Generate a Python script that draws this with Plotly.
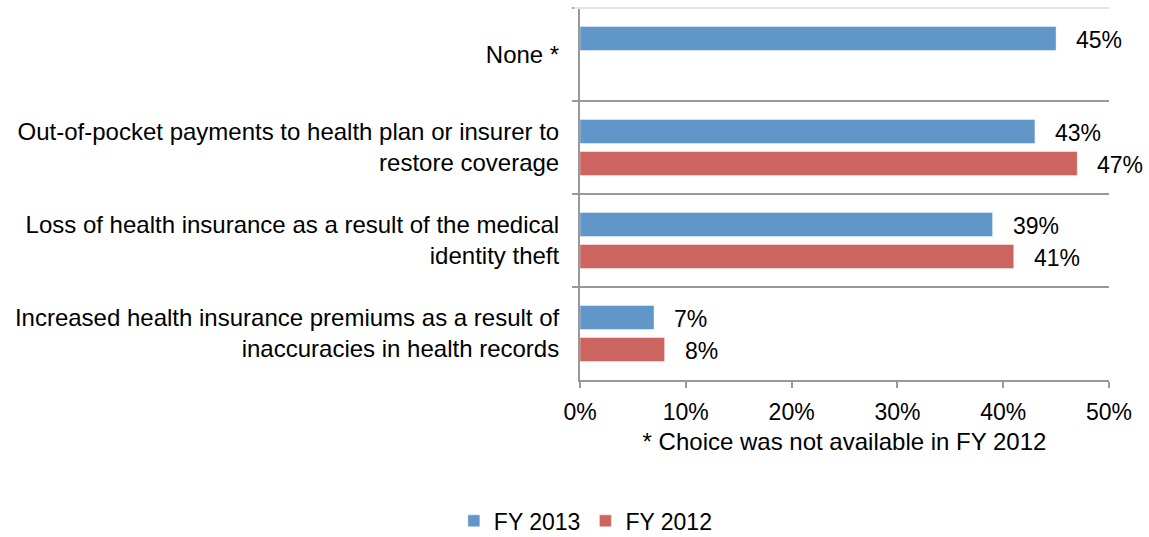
import plotly.graph_objects as go

# Survey categories (top to bottom) and percentages per fiscal year
categories = [
    "None *",
    "Out-of-pocket payments to health plan or insurer to<br>restore coverage",
    "Loss of health insurance as a result of the medical<br>identity theft",
    "Increased health insurance premiums as a result of<br>inaccuracies in health records",
]
fy2013 = [45, 43, 39, 7]
fy2012 = [None, 47, 41, 8]
x_ticks = [0, 10, 20, 30, 40, 50]
x_tick_labels = [f"{v}%" for v in x_ticks]

BLUE = "#6096C8"
RED = "#CC6560"
AXIS_GREY = "#999999"
FONT = "Liberation Sans, Arial, sans-serif"
FS = 23
FS_CAT = 24

fig = go.Figure()
fig.add_trace(go.Bar(
    y=categories, x=fy2013, name="FY 2013", orientation="h",
    marker=dict(color=BLUE, line=dict(color="rgba(255,255,255,0.45)", width=1)),
    hoverinfo="x+y",
))
fig.add_trace(go.Bar(
    y=categories, x=fy2012, name="FY 2012", orientation="h",
    marker=dict(color=RED, line=dict(color="rgba(255,255,255,0.45)", width=1)),
    hoverinfo="x+y",
))

# Value labels just past the end of each bar
for series, shift in ((fy2013, 15), (fy2012, -17)):
    for cat, val in zip(categories, series):
        if val is None:
            continue
        fig.add_annotation(
            x=val, y=cat, xref="x", yref="y", text=f"{val}%",
            showarrow=False, xanchor="left", yanchor="middle",
            xshift=18, yshift=shift,
            font=dict(family=FONT, size=FS, color="#000000"),
        )

# Light rule along the top edge of the plot
fig.add_shape(type="line", xref="paper", yref="paper", x0=-0.012, x1=1, y0=1, y1=1,
              line=dict(color="#E4E4E4", width=2), layer="above")

fig.update_layout(
    width=1149, height=537,
    margin=dict(l=580, r=40, t=8, b=157),
    paper_bgcolor="white", plot_bgcolor="white",
    barmode="group", bargap=0.31, bargroupgap=0.25,
    font=dict(family=FONT, size=FS, color="#000000"),
    showlegend=True,
    legend=dict(
        orientation="h", xref="container", yref="container",
        x=0.395, y=0.03, xanchor="left", yanchor="middle",
        font=dict(family=FONT, size=FS, color="#000000"),
        itemwidth=30, traceorder="normal",
    ),
    xaxis=dict(
        range=[0, 50], tickvals=x_ticks, ticktext=x_tick_labels,
        showgrid=False, zeroline=False,
        showline=True, linecolor=AXIS_GREY, linewidth=2,
        ticks="outside", ticklen=6, tickcolor=AXIS_GREY, tickwidth=2,
        ticklabelstandoff=4,
        tickfont=dict(family=FONT, size=FS, color="#000000"),
        title=dict(text="* Choice was not available in FY 2012", standoff=10,
                   font=dict(family=FONT, size=FS_CAT, color="#000000")),
    ),
    yaxis=dict(
        type="category", autorange="reversed",
        tickson="boundaries", ticks="outside", ticklen=6,
        tickcolor=AXIS_GREY, tickwidth=2,
        showline=True, linecolor=AXIS_GREY, linewidth=2,
        showgrid=True, gridcolor=AXIS_GREY, gridwidth=2,
        ticklabelstandoff=14,
        tickfont=dict(family=FONT, size=FS_CAT, color="#000000"),
    ),
)

fig.write_html("out.html")
